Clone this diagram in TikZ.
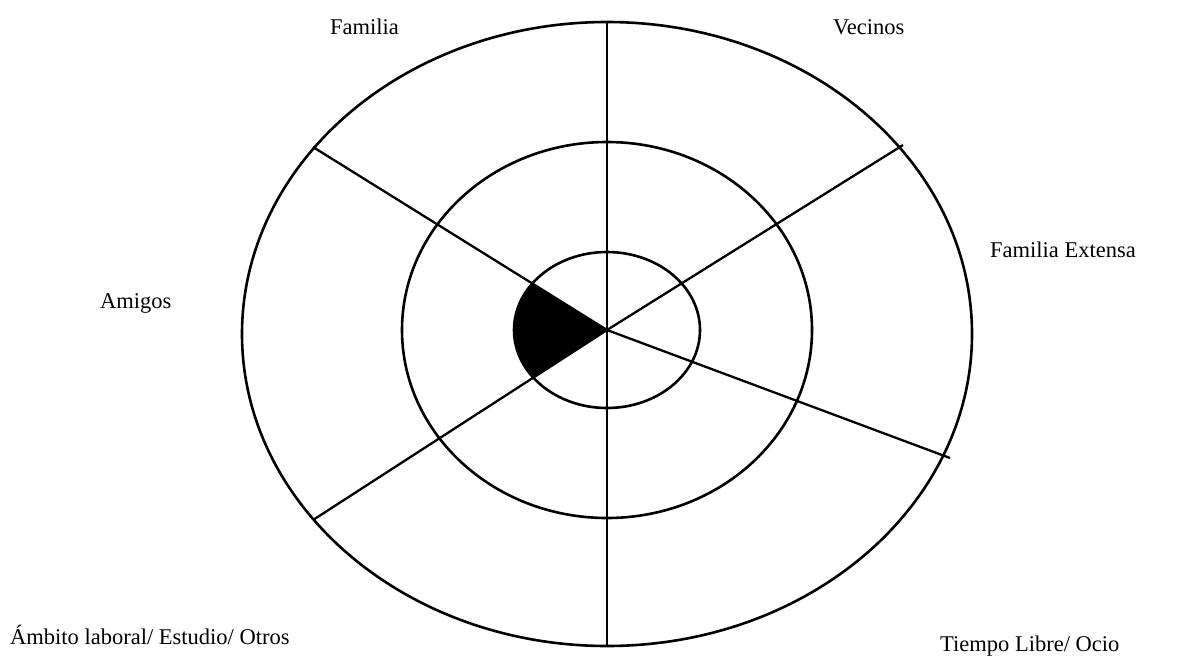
\documentclass[tikz,border=0pt]{standalone}
\usepackage{fontspec}
\setmainfont{Liberation Serif}
\begin{document}
\begin{tikzpicture}[x=1pt,y=-1pt,
  ring/.style={draw=black,line width=2.6pt},
  spoke/.style={draw=black,line width=2.3pt},
  lbl/.style={font=\fontsize{22.5}{26}\selectfont,inner sep=0pt,anchor=base west}]
\useasboundingbox[fill=white] (0,0) rectangle (1188,662);
\coordinate (c) at (607,330);
\coordinate (top) at (607,22);
\coordinate (bot) at (607,647);
\coordinate (ul) at (313,147);
\coordinate (ll) at (313,520);
\coordinate (ur) at (903,145);
\coordinate (lr) at (950,458);
% filled wedge
\begin{scope}
  \clip (c) ellipse [x radius=93, y radius=78];
  \fill[black] (c) -- (ul) -- (ll) -- cycle;
\end{scope}
% rings
\draw[ring] (607,334) ellipse [x radius=365, y radius=312];
\draw[ring] (c) ellipse [x radius=205, y radius=188];
\draw[ring] (c) ellipse [x radius=93, y radius=78];
% spokes
\draw[spoke] (top) -- (bot);
\draw[spoke] (ul) -- (c);
\draw[spoke] (ll) -- (c);
\draw[spoke] (ur) -- (c);
\draw[spoke] (lr) -- (c);
% labels
\node[lbl] (familia) at (330,34) {Familia};
\node[lbl] (vecinos) at (833,34) {Vecinos};
\node[lbl] (extensa) at (990,257) {Familia Extensa};
\node[lbl] (amigos) at (100,308) {Amigos};
\node[lbl] (ambito) at (10,644) {Ámbito laboral/ Estudio/ Otros};
\node[lbl] (tiempo) at (940,651) {Tiempo Libre/ Ocio};
\end{tikzpicture}
\end{document}
